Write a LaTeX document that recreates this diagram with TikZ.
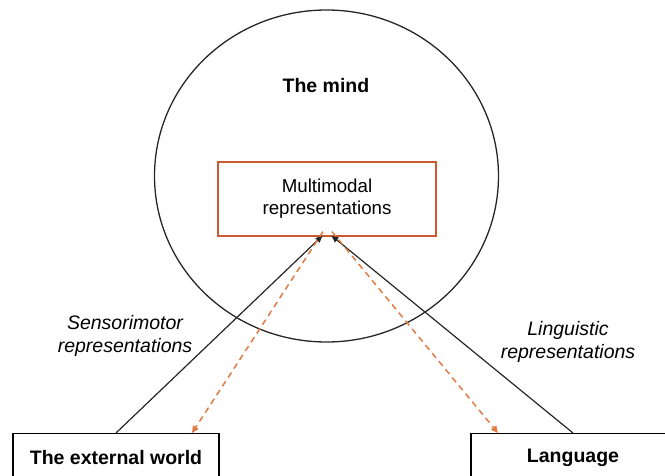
\documentclass[tikz,border=0pt]{standalone}
\usepackage{fontspec}
\setmainfont{Liberation Sans}
\usetikzlibrary{arrows.meta}
\definecolor{boxorange}{HTML}{C95A33}
\definecolor{dashorange}{HTML}{E07A45}
\begin{document}
\begin{tikzpicture}[x=1pt,y=-1pt,
  lbl/.style={font=\fontsize{18.7}{26}\selectfont, align=center},
  blbl/.style={font=\fontsize{19.5}{26}\selectfont\bfseries, align=center},
  ilbl/.style={font=\fontsize{19.5}{22.5}\selectfont\itshape, align=center},
  mmbox/.style={draw=boxorange, line width=1.3pt, minimum width=218pt, minimum height=74pt, inner sep=0pt},
  endbox/.style={draw=black, line width=1.3pt, minimum height=48pt, inner sep=0pt, fill=white},
  solidarrow/.style={draw=black!85, line width=1.2pt, -{Triangle[length=7pt,width=6pt]}},
  dasharrow/.style={draw=dashorange, line width=1.5pt, dash pattern=on 6pt off 4.5pt, -{Triangle[length=7pt,width=6.5pt]}}
]
\useasboundingbox (0,0) rectangle (665,476);

% the mind
\draw[line width=1.3pt, black!85] (326.5,176) ellipse [x radius=172pt, y radius=166pt];
\node[blbl] (mindlabel) at (326,86) {The mind};

% central representation box
\node[mmbox, lbl] (mm) at (327,199) {Multimodal\\[-4pt]representations};

% world and language
\node[endbox, blbl, minimum width=206pt, anchor=north] (world) at (116,433) {The external world};
\node[endbox, blbl, minimum width=204pt, anchor=north] (lang) at (573,433) {Language};

% inputs to the mind
\draw[solidarrow] (world.north) -- ([xshift=-4.5pt,yshift=1pt]mm.south);
\draw[solidarrow] (lang.north) -- ([xshift=4.5pt,yshift=1pt]mm.south);

% outputs from the mind
\draw[dasharrow] ([xshift=-4pt,yshift=5pt]mm.south) -- ([xshift=76pt]world.north);
\draw[dasharrow] ([xshift=5pt,yshift=5pt]mm.south) -- ([xshift=-75pt]lang.north);

% connector labels
\node[ilbl] (sensor) at (125,336) {Sensorimotor\\representations};
\node[ilbl] (ling) at (568,342) {Linguistic\\representations};
\end{tikzpicture}
\end{document}
